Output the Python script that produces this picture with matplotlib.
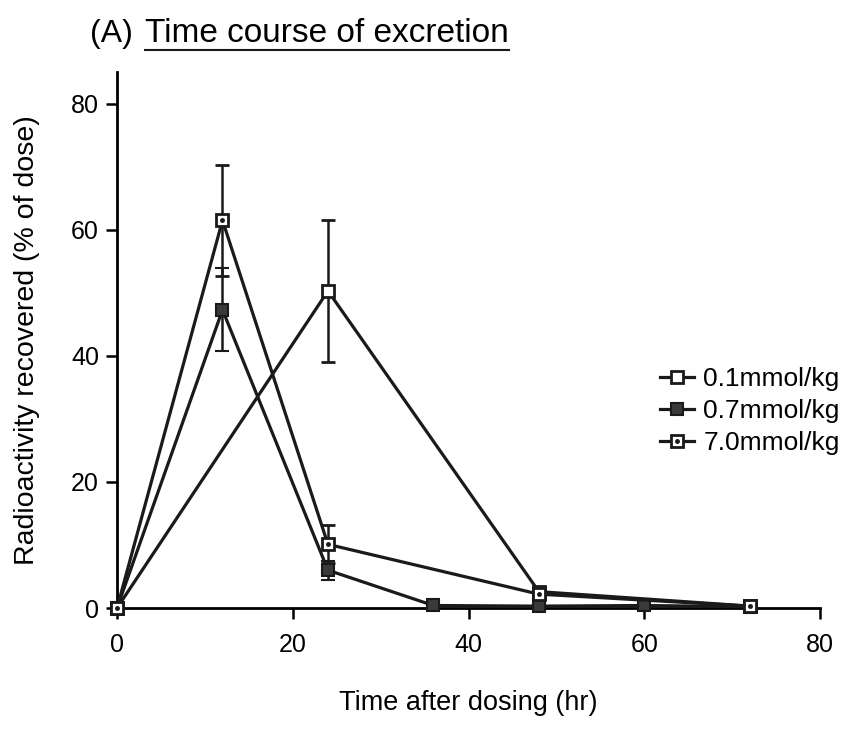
import matplotlib
matplotlib.use("Agg")
import matplotlib.pyplot as plt
from matplotlib.lines import Line2D
from matplotlib.legend_handler import HandlerTuple

plt.rcParams['font.family'] = ['Liberation Sans', 'DejaVu Sans']

# time points (hr) and recovered radioactivity (% of dose)
t_01 = [0, 24, 48, 72]
y_01 = [0, 50.3, 2.6, 0.3]
e_01 = [0, 11.2, 0, 0]

t_07 = [0, 12, 24, 36, 48, 60, 72]
y_07 = [0, 47.3, 6.0, 0.4, 0.3, 0.4, 0.2]
e_07 = [0, 6.6, 1.5, 0, 0, 0, 0]

t_70 = [0, 12, 24, 48, 72]
y_70 = [0, 61.5, 10.1, 2.2, 0.3]
e_70 = [0, 8.8, 3.0, 0, 0]

labels = ['0.1mmol/kg', '0.7mmol/kg', '7.0mmol/kg']
xticks = [0, 20, 40, 60, 80]
yticks = [0, 20, 40, 60, 80]

fig = plt.figure(figsize=(8.45, 7.3), dpi=100)
ax = fig.add_axes([0.1385, 0.1671, 0.832, 0.734])

lw = 2.3
ms = 9
kw = dict(color='#1a1a1a', lw=lw, capsize=5, capthick=2, elinewidth=1.8, clip_on=False)

ax.errorbar(t_07, y_07, yerr=e_07, marker='s', ms=ms, mfc='#3a3a3a', mec='#1a1a1a',
            mew=1.5, zorder=3, **kw)
ax.errorbar(t_01, y_01, yerr=e_01, marker='s', ms=ms, mfc='white', mec='#1a1a1a',
            mew=2, zorder=4, **kw)
ax.errorbar(t_70, y_70, yerr=e_70, marker='s', ms=ms, mfc='white', mec='#1a1a1a',
            mew=2, zorder=5, **kw)
ax.plot(t_70, y_70, ls='none', marker='o', ms=2.5, color='#1a1a1a', zorder=6, clip_on=False)

ax.set_xlim(0, 80)
ax.set_ylim(0, 85)
ax.set_xticks(xticks)
ax.set_yticks(yticks)
ax.tick_params(direction='out', length=8, width=1.8, labelsize=18)
ax.tick_params(axis='y', pad=5)
ax.tick_params(axis='x', pad=10)
for s in ['top', 'right']:
    ax.spines[s].set_visible(False)
for s in ['left', 'bottom']:
    ax.spines[s].set_linewidth(2)

ax.set_xlabel('Time after dosing (hr)', fontsize=19.5, labelpad=24)
ax.set_ylabel('Radioactivity recovered (% of dose)', fontsize=20.5, labelpad=22)

# legend handles
h01 = Line2D([], [], color='#1a1a1a', lw=lw, marker='s', ms=ms, mfc='white', mec='#1a1a1a', mew=2)
h07 = Line2D([], [], color='#1a1a1a', lw=lw, marker='s', ms=ms, mfc='#3a3a3a', mec='#1a1a1a', mew=1.5)
h70a = Line2D([], [], color='#1a1a1a', lw=lw, marker='s', ms=ms, mfc='white', mec='#1a1a1a', mew=2)
h70b = Line2D([], [], ls='none', marker='o', ms=2.5, color='#1a1a1a')
fig.legend([h01, h07, (h70a, h70b)], labels, loc='upper left',
           bbox_to_anchor=(0.781, 0.497), frameon=False, fontsize=19,
           borderpad=0, borderaxespad=0,
           handlelength=1.3, handletextpad=0.35, labelspacing=0.3,
           handler_map={tuple: HandlerTuple(ndivide=1, pad=0)})

# title with underline
fig.text(0.107, 0.943, '(A)', fontsize=23, va='baseline')
tt = fig.text(0.172, 0.943, 'Time course of excretion', fontsize=24, va='baseline')
fig.canvas.draw()
bb = tt.get_window_extent().transformed(fig.transFigure.inverted())
fig.add_artist(Line2D([bb.x0, bb.x1], [0.932, 0.932], color='#1a1a1a', lw=1.5,
                      transform=fig.transFigure))

fig.savefig('out.png', dpi=100)
